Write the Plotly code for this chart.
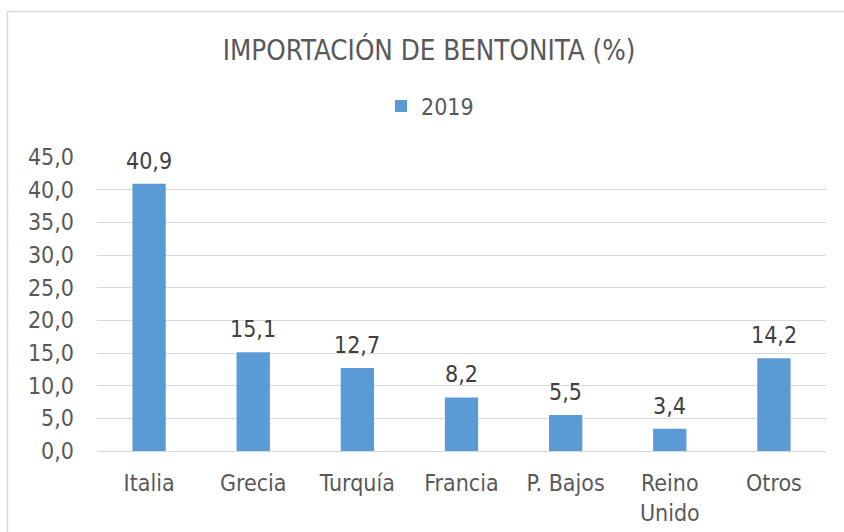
import plotly.graph_objects as go

categories = ["Italia", "Grecia", "Turquía", "Francia", "P. Bajos", "Reino<br>Unido", "Otros"]
values_2019 = [40.9, 15.1, 12.7, 8.2, 5.5, 3.4, 14.2]
series_name = "2019"
title_text = "IMPORTACIÓN DE BENTONITA (%)"

FONT = "DejaVu Sans Condensed, Liberation Sans Narrow, sans-serif"
W, H = 844, 532
L, R, T, B = 97, 826, 157, 451
FS = 23

fig = go.Figure()
fig.add_trace(go.Bar(
    x=categories, y=values_2019, name=series_name,
    marker=dict(color="#5B9BD5", line=dict(width=0)),
    width=0.32,
))

for c, v in zip(categories, values_2019):
    fig.add_annotation(x=c, y=v, xref="x", yref="y", showarrow=False,
                       text=f"{v:.1f}".replace(".", ","), yanchor="bottom",
                       yshift=8, font=dict(size=FS, color="#404040", family=FONT))

fig.update_layout(
    width=W, height=H,
    margin=dict(l=L, r=W - R, t=T, b=H - B, pad=0, autoexpand=False),
    paper_bgcolor="white", plot_bgcolor="white",
    separators=",.",
    font=dict(family=FONT, color="#595959"),
    title=dict(text=title_text, x=429 / W, xref="container", xanchor="center",
               y=1 - 50 / H, yref="container", yanchor="middle", automargin=False,
               font=dict(size=27.5, color="#595959", family=FONT)),
    showlegend=True,
    legend=dict(orientation="h", x=(430 - L) / (R - L), xanchor="center",
                y=(B - 106) / (B - T), yanchor="middle",
                font=dict(size=FS, color="#595959", family=FONT),
                itemwidth=30, bgcolor="rgba(0,0,0,0)"),
    xaxis=dict(showgrid=False, showline=False, ticks="", ticklabelstandoff=16,
               automargin=False,
               tickfont=dict(size=FS, color="#595959", family=FONT)),
    yaxis=dict(range=[0, 45], dtick=5, tickformat=".1f", showgrid=True,
               gridcolor="#D9D9D9", gridwidth=1, zeroline=True,
               zerolinecolor="#D9D9D9", zerolinewidth=1, showline=False,
               ticks="", ticklen=0, ticklabelstandoff=22, automargin=False,
               tickfont=dict(size=FS, color="#595959", family=FONT)),
)
fig.add_shape(type="rect", xref="paper", yref="paper",
              x0=(7.5 - L) / (R - L), x1=1.2, y0=-0.5, y1=(B - 11.5) / (B - T),
              line=dict(color="#D9D9D9", width=1.5), layer="below")

fig.write_html("out.html", config={"displayModeBar": False},
               post_script="document.body.style.margin='0';document.body.style.overflow='hidden';")
